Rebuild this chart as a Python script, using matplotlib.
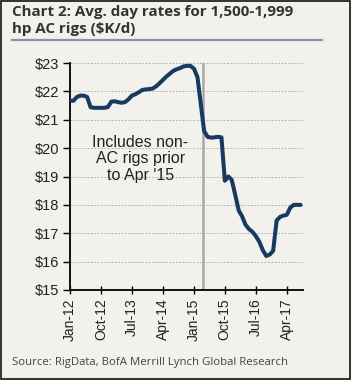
import pandas as pd
import matplotlib
matplotlib.use('Agg')
import matplotlib.pyplot as plt
import matplotlib.dates as mdates
from matplotlib.patches import Rectangle
from matplotlib.lines import Line2D

# monthly average day rates, Jan-12 .. Aug-17 ($K/d)
months = pd.date_range('2012-01-01', periods=68, freq='MS')
rates = [21.67, 21.67, 21.80, 21.85, 21.85, 21.80, 21.44, 21.42, 21.42, 21.42,
         21.42, 21.45, 21.64, 21.65, 21.62, 21.60, 21.62, 21.72, 21.85, 21.90,
         21.97, 22.05, 22.07, 22.08, 22.10, 22.18, 22.28, 22.40, 22.52, 22.62,
         22.72, 22.78, 22.82, 22.88, 22.90, 22.90, 22.80, 22.50, 21.60, 20.60,
         20.40, 20.37, 20.38, 20.40, 20.38, 18.85, 19.00, 18.88, 18.35, 17.80,
         17.60, 17.30, 17.15, 17.05, 16.90, 16.70, 16.40, 16.20, 16.25, 16.38,
         17.45, 17.58, 17.62, 17.65, 17.90, 18.00, 18.00, 18.00]

tick_dates = pd.date_range('2012-01-01', '2017-04-01', freq='9MS')
y_ticks = [15, 16, 17, 18, 19, 20, 21, 22, 23]
cutoff = pd.Timestamp('2015-03-20')
note = "Includes non-\nAC rigs prior\nto Apr '15"

title = 'Chart 2: Avg. day rates for 1,500-1,999\nhp AC rigs ($K/d)'
source = 'Source: RigData, BofA Merrill Lynch Global Research'

bg = '#f3f1ec'

fig = plt.figure(figsize=(3.54, 3.84), dpi=100, facecolor='white')
W, H = 354, 384

# panel background + frame
fig.patches.append(Rectangle((1 / W, 1 - 379 / H), 349 / W, 378 / H,
                             transform=fig.transFigure, facecolor=bg,
                             edgecolor='#111111', lw=1.2, zorder=-5))

ax = fig.add_axes([70 / W, 1 - 290 / H, 233 / W, 227 / H])
ax.set_zorder(2)
ax.set_facecolor(bg)

ax.plot(months, rates, color='#173a5e', lw=2.9, solid_capstyle='round',
        solid_joinstyle='round', zorder=3)
ax.axvline(cutoff, color='#a8a8a8', lw=1.8, zorder=2)

ax.set_ylim(15, 23)
ax.set_xlim(pd.Timestamp('2012-01-01'), pd.Timestamp('2017-08-22'))
ax.set_yticks(y_ticks)
ax.set_yticklabels(['$%d' % v for v in y_ticks])
ax.set_xticks(tick_dates)
ax.xaxis.set_major_formatter(mdates.DateFormatter('%b-%y'))

ax.grid(axis='y', color='#b5b5b5', linestyle=(0, (2, 1.5)), lw=0.7)
ax.set_axisbelow(True)
for s in ['top', 'right']:
    ax.spines[s].set_visible(False)
for s in ['left', 'bottom']:
    ax.spines[s].set_linewidth(1.4)
    ax.spines[s].set_color('#111111')

ax.tick_params(axis='y', direction='out', length=5, width=1, pad=3,
               labelsize=10.5, labelcolor='#222222')
ax.tick_params(axis='x', direction='inout', length=6, width=1, pad=3,
               labelsize=10, labelcolor='#222222', labelrotation=90)
for lab in ax.get_xticklabels() + ax.get_yticklabels():
    lab.set_family('Liberation Sans')

ax.text(pd.Timestamp('2013-09-15'), 19.62, note, ha='center', va='center',
        fontsize=11.5, family='Liberation Sans', color='#222222',
        linespacing=1.15, zorder=4)

fig.text(12 / W, 1 - 5 / H, title, ha='left', va='top', fontsize=10.9,
         fontweight='bold', family='Open Sans', color='#333333', linespacing=1.25)
fig.add_artist(Line2D([12 / W, 322 / W], [1 - 40 / H, 1 - 40 / H],
                      transform=fig.transFigure, color='#8a91a8', lw=1.6))
fig.text(12 / W, 1 - 363 / H, source, ha='left', va='center', fontsize=8.2,
         family='Open Sans', color='#444444')

fig.savefig('out.png', dpi=100, facecolor='white')
